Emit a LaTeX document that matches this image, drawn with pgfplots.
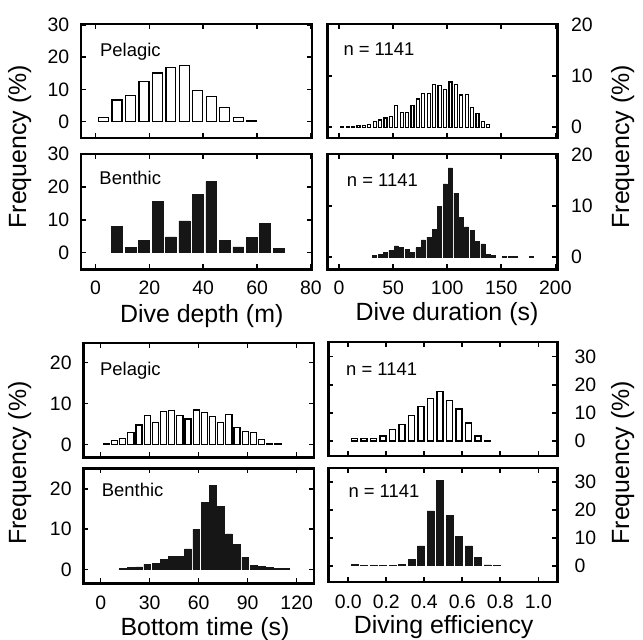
\documentclass[border=0pt]{standalone}
\usepackage{fontspec}
\setmainfont{Liberation Sans}
\usepackage{pgfplots}
\pgfplotsset{compat=1.18}
\definecolor{barblack}{HTML}{161616}
\tikzset{txt/.style={anchor=base west, inner sep=0pt, font=\fontsize{18.5}{20}\selectfont}}
\begin{document}
\begin{tikzpicture}
\useasboundingbox (0,0) rectangle (643bp,-640bp);
\pgfplotsset{
 panel/.style={
   scale only axis, anchor=north west, ybar,
   axis line style={line width=2.4bp},
   tick align=inside, xtick pos=both, ytick pos=both,
   major tick length=5bp, tick style={line width=1.6bp, black},
   tick label style={font=\fontsize{19.5}{20}\selectfont, inner sep=0pt},
   /pgf/number format/assume math mode=true,
   clip=false,
 },
 leftp/.style={yticklabel pos=left, yticklabel style={anchor=east, xshift=-11.5bp}},
 rightp/.style={yticklabel pos=right, yticklabel style={anchor=west, xshift=#1}},
 pel/.style={fill=white, draw=black, line width=1.2bp},
 ben/.style={fill=barblack, draw=barblack, line width=0.5bp},
}
% ---------- P1 pelagic depth
\begin{axis}[panel, leftp, at={(81bp,-24bp)}, width=230.7bp, height=113.7bp,
  xmin=-5.4, xmax=80.3, ymin=-5, ymax=30.3, xtick={0,20,40,60,80}, ytick={0,10,20,30},
  xticklabels={}, bar width=3.7]
\addplot[pel] coordinates {(3,1.2)(8,6.7)(13,8.1)(18,12.5)(23,15.1)(28,16.9)(33,17.5)(38,9.6)(43,7.8)(48,4.3)(53,1.3)(58,0.2)};
\node[txt] at ([shift={(19bp,-32.7bp)}]rel axis cs:0,1) {Pelagic};
\end{axis}
% ---------- P2 pelagic duration
\begin{axis}[panel, rightp=13.5bp, at={(327.3bp,-24bp)}, width=230bp, height=113.7bp,
  xmin=-10.8, xmax=201.8, ymin=-2.03, ymax=20.1, xtick={0,50,100,150,200}, ytick={0,10,20},
  xticklabels={}, bar width=2.8]
\addplot[pel] coordinates {(3,0.2)(8,0.2)(13,0.2)(18,0.3)(23,0.3)(28,0.6)(33,1.1)(38,1.4)(43,1.8)(48,2.1)(53,4.2)(58,2.9)(63,2.9)(68,4.3)(73,5.5)(78,6.6)(83,6.5)(88,8.4)(93,8.1)(98,7.4)(103,8.8)(108,8.4)(113,6.3)(118,6.4)(123,3.9)(128,2.7)(133,1.1)(138,0.6)};
\node[txt] at ([shift={(16bp,-32bp)}]rel axis cs:0,1) {n = 1141};
\end{axis}
% ---------- P3 benthic depth
\begin{axis}[panel, leftp, at={(81bp,-154bp)}, width=230.7bp, height=115.3bp,
  xmin=-5.4, xmax=80.3, ymin=-5.05, ymax=30, xtick={0,20,40,60,80}, ytick={0,10,20,30},
  xticklabel style={anchor=base, yshift=-25bp}, bar width=4.0]
\addplot[ben] coordinates {(8,8.1)(13,1.6)(18,3.8)(23,15.6)(28,4.8)(33,9.7)(38,17.7)(43,21.6)(48,3.8)(53,1.8)(58,4.6)(63,8.8)(68,1.2)};
\node[txt] at ([shift={(18.3bp,-30.3bp)}]rel axis cs:0,1) {Benthic};
\end{axis}
% ---------- P4 benthic duration
\begin{axis}[panel, rightp=13.5bp, at={(327.3bp,-154bp)}, width=230bp, height=115.3bp,
  xmin=-10.8, xmax=201.8, ymin=-2.34, ymax=20.1, xtick={0,50,100,150,200}, ytick={0,10,20},
  xticklabel style={anchor=base, yshift=-25bp}, bar width=3.7]
\addplot[ben] coordinates {(33,0.3)(38,0.5)(43,1.0)(48,1.4)(53,2.2)(58,1.9)(63,1.6)(68,0.9)(73,1.9)(78,3.4)(83,3.9)(88,5.5)(93,9.9)(98,14.3)(103,17.4)(108,12.5)(113,7.7)(118,5.9)(123,5.3)(128,3.1)(133,2.6)(138,0.6)(143,0.3)(153,0.2)(158,0.2)(163,0.2)(178,0.2)};
\node[txt] at ([shift={(19.4bp,-32bp)}]rel axis cs:0,1) {n = 1141};
\end{axis}
% ---------- P5 pelagic bottom time
\begin{axis}[panel, leftp, at={(83.3bp,-342.7bp)}, width=230.7bp, height=114.6bp,
  xmin=-10.65, xmax=130.6, ymin=-3.17, ymax=24.8, xtick={0,30,60,90,120}, ytick={0,10,20},
  xticklabels={}, bar width=3.7]
\addplot[pel] coordinates {(3.5,0.2)(8.5,0.9)(13.5,1.5)(18.5,2.8)(23.5,4.7)(28.5,7.0)(33.5,5.4)(38.5,8.0)(43.5,8.2)(48.5,7.0)(53.5,6.2)(58.5,8.4)(63.5,7.8)(68.5,6.7)(73.5,5.4)(78.5,7.3)(83.5,4.1)(88.5,3.1)(93.5,2.9)(98.5,1.1)(103.5,0.2)(108.5,0.2)};
\node[txt] at ([shift={(16.7bp,-32.3bp)}]rel axis cs:0,1) {Pelagic};
\end{axis}
% ---------- P6 pelagic efficiency
\begin{axis}[panel, rightp=17bp, at={(328.3bp,-341.7bp)}, width=229bp, height=114.3bp,
  xmin=-0.105, xmax=1.1, ymin=-5.34, ymax=35.3, xtick={0,0.2,0.4,0.6,0.8,1.0}, ytick={0,10,20,30},
  xticklabels={}, bar width=0.032]
\addplot[pel] coordinates {(0.033,1.0)(0.083,1.0)(0.133,1.0)(0.183,1.8)(0.233,4.0)(0.283,5.8)(0.333,9.0)(0.383,12.4)(0.433,15.2)(0.483,17.5)(0.533,14.5)(0.583,11.4)(0.633,6.4)(0.683,1.8)(0.733,0.2)};
\node[txt] at ([shift={(17.7bp,-34bp)}]rel axis cs:0,1) {n = 1141};
\end{axis}
% ---------- P7 benthic bottom time
\begin{axis}[panel, leftp, at={(83.3bp,-468.3bp)}, width=230.7bp, height=115bp,
  xmin=-10.65, xmax=130.6, ymin=-3.47, ymax=25.06, xtick={0,30,60,90,120}, ytick={0,10,20},
  xticklabel style={anchor=base, yshift=-26.5bp}, bar width=4.1]
\addplot[ben] coordinates {(13.5,0.2)(18.5,0.4)(23.5,0.6)(28.5,1.3)(33.5,1.5)(38.5,2.5)(43.5,3.3)(48.5,3.2)(53.5,5.1)(58.5,9.9)(63.5,16.6)(68.5,20.8)(73.5,15.7)(78.5,8.8)(83.5,6.2)(88.5,3.0)(93.5,0.9)(98.5,0.7)(103.5,0.4)(108.5,0.2)(113.5,0.2)};
\node[txt] at ([shift={(18.4bp,-27.7bp)}]rel axis cs:0,1) {Benthic};
\end{axis}
% ---------- P8 benthic efficiency
\begin{axis}[panel, rightp=17bp, at={(328.3bp,-468bp)}, width=229bp, height=113.7bp,
  xmin=-0.105, xmax=1.1, ymin=-5.7, ymax=34.9, xtick={0,0.2,0.4,0.6,0.8,1.0}, ytick={0,10,20,30},
  xticklabel style={anchor=base, yshift=-26.5bp, /pgf/number format/.cd, fixed, fixed zerofill, precision=1},
  bar width=0.037]
\addplot[ben] coordinates {(0.033,0.5)(0.083,0.2)(0.133,0.2)(0.183,0.2)(0.233,0.2)(0.283,0.6)(0.333,2.4)(0.383,7.1)(0.433,19.6)(0.483,30.4)(0.533,17.9)(0.583,10.4)(0.633,7.1)(0.683,3.0)(0.733,0.3)(0.783,0.2)};
\node[txt] at ([shift={(20bp,-29.3bp)}]rel axis cs:0,1) {n = 1141};
\end{axis}
% ---------- axis titles
\node[anchor=base, font=\fontsize{25}{28}\selectfont] at (201.7bp,-322.5bp) {Dive depth (m)};
\node[anchor=base, font=\fontsize{25}{28}\selectfont] at (447bp,-320bp) {Dive duration (s)};
\node[anchor=base, font=\fontsize{25}{28}\selectfont] at (205bp,-635bp) {Bottom time (s)};
\node[anchor=base, font=\fontsize{25}{28}\selectfont] at (443.7bp,-633.3bp) {Diving efficiency};
\node[anchor=base, rotate=90, font=\fontsize{25}{28}\selectfont] at (26bp,-146.7bp) {Frequency (\%)};
\node[anchor=base, rotate=90, font=\fontsize{25}{28}\selectfont] at (26bp,-463bp) {Frequency (\%)};
\node[anchor=base, rotate=90, font=\fontsize{25}{28}\selectfont] at (629bp,-146.7bp) {Frequency (\%)};
\node[anchor=base, rotate=90, font=\fontsize{25}{28}\selectfont] at (629bp,-462.7bp) {Frequency (\%)};
\end{tikzpicture}
\end{document}
